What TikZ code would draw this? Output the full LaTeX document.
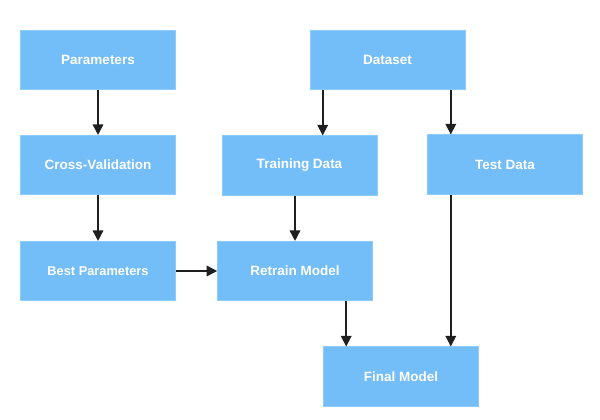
\documentclass[tikz,border=0pt]{standalone}
\usepackage{fontspec}
\setmainfont{Liberation Sans}
\usetikzlibrary{arrows.meta}
\definecolor{boxblue}{HTML}{73BDF8}
\definecolor{boxline}{HTML}{8CCBFA}
\begin{document}
\begin{tikzpicture}
  [
  x=1pt, y=-1pt,
  font=\fontsize{13.5}{15}\selectfont\bfseries,
  stepbox/.style={rectangle, inner sep=0pt, minimum width=155pt, minimum height=59.5pt, fill=boxblue, draw=boxline, line width=0.6pt, text=white},
  flow/.style={-{Triangle[length=10.5pt,width=10.5pt]}, line width=1.6pt, draw=black!88},
  ]

\useasboundingbox (0,0) rectangle (600,420);

\node[stepbox] (params) at (98,60) {Parameters};
\node[stepbox] (dataset) at (387.5,60) {Dataset};
\node[stepbox] (cv) at (98,165) {Cross-Validation};
\node[stepbox] (train) at (299.5,165.5) {Training Data};
\node[stepbox] (test) at (505,164.5) {Test Data};
\node[stepbox] (best) at (98,271) {\fontsize{12.8}{15}\selectfont Best Parameters};
\node[stepbox] (retrain) at (295,271) {Retrain Model};
\node[stepbox] (final) at (401,376.5) {Final Model};

\coordinate (dtrain) at ([xshift=13pt]dataset.south west);
\coordinate (dtest) at ([xshift=-14.5pt]dataset.south east);
\coordinate (rfinal) at ([xshift=23pt]final.north west);

\draw[flow] (params) -- (cv);
\draw[flow] (cv) -- (best);
\draw[flow] (dtrain) -- (dtrain |- train.north);
\draw[flow] (dtest) -- (dtest |- test.north);
\draw[flow] (retrain.north |- train.south) -- (retrain.north);
\draw[flow] (best) -- (retrain);
\draw[flow] (rfinal |- retrain.south) -- (rfinal);
\draw[flow] (dtest |- test.south) -- (dtest |- final.north);
\end{tikzpicture}
\end{document}
